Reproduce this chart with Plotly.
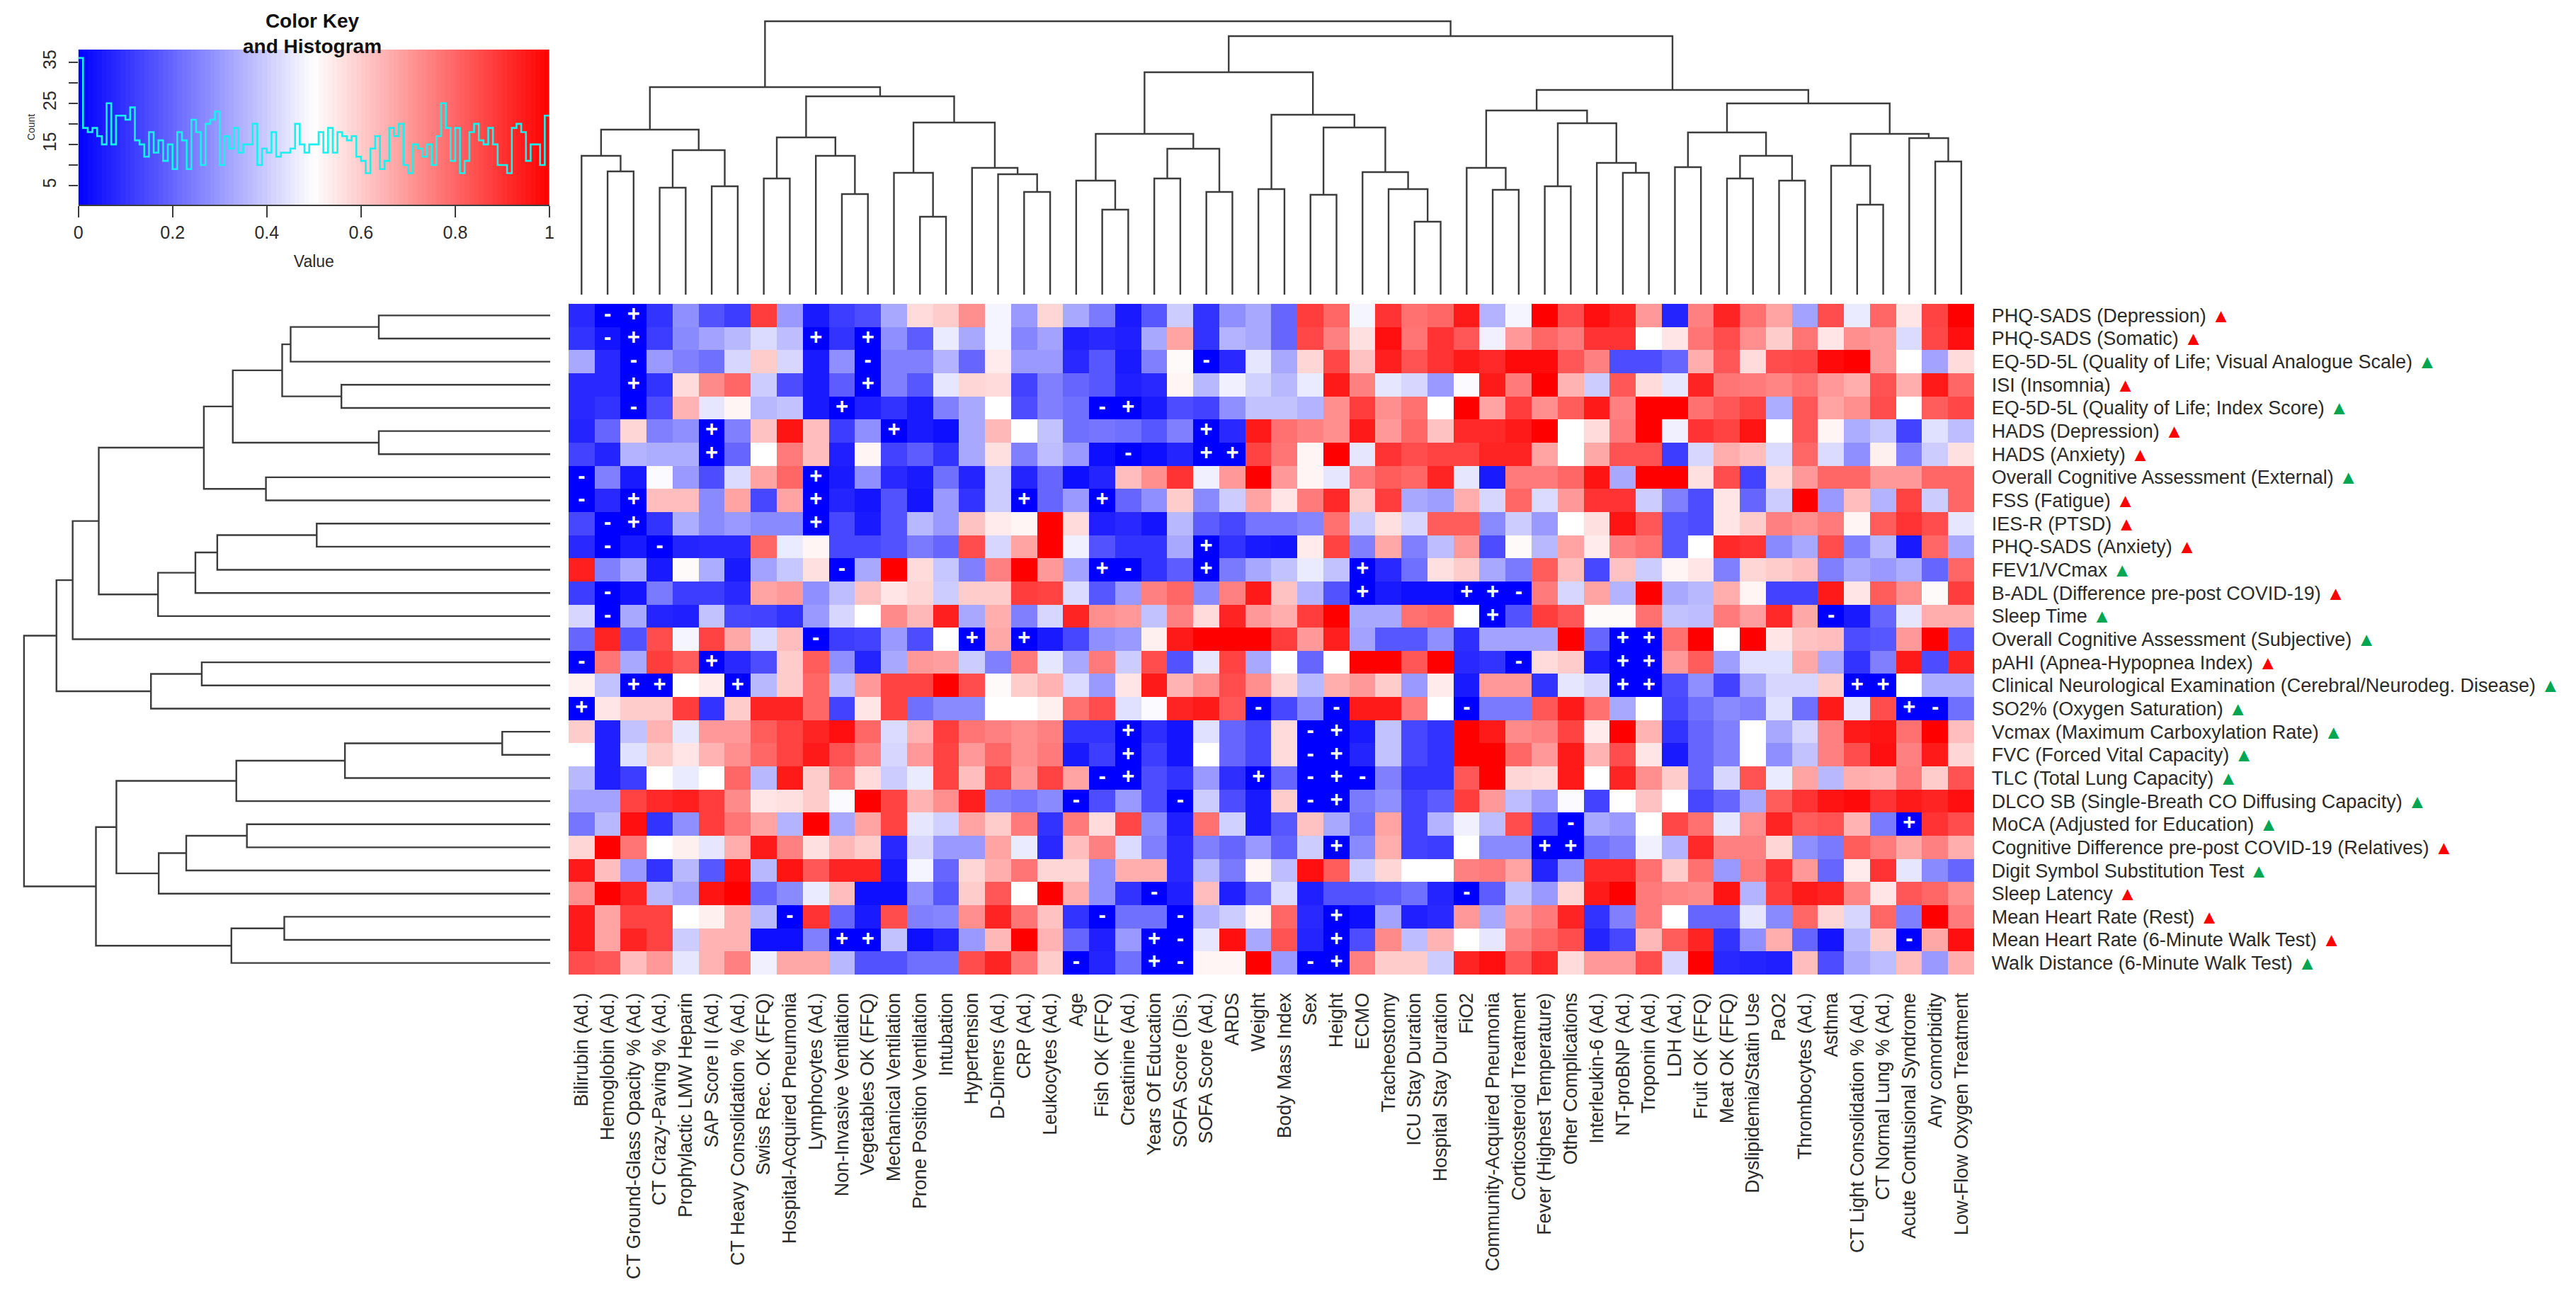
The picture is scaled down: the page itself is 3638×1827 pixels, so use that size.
import plotly.graph_objects as go

W, H = 3638, 1827

row_labels = [
    "PHQ-SADS (Depression)", "PHQ-SADS (Somatic)", "EQ-5D-5L (Quality of Life; Visual Analogue Scale)",
    "ISI (Insomnia)", "EQ-5D-5L (Quality of Life; Index Score)", "HADS (Depression)", "HADS (Anxiety)",
    "Overall Cognitive Assessment (External)", "FSS (Fatigue)", "IES-R (PTSD)", "PHQ-SADS (Anxiety)",
    "FEV1/VCmax", "B-ADL (Difference pre-post COVID-19)", "Sleep Time",
    "Overall Cognitive Assessment (Subjective)", "pAHI (Apnea-Hypopnea Index)",
    "Clinical Neurological Examination (Cerebral/Neurodeg. Disease)", "SO2% (Oxygen Saturation)",
    "Vcmax (Maximum Carboxylation Rate)", "FVC (Forced Vital Capacity)", "TLC (Total Lung Capacity)",
    "DLCO SB (Single-Breath CO Diffusing Capacity)", "MoCA (Adjusted for Education)",
    "Cognitive Difference pre-post COVID-19 (Relatives)", "Digit Symbol Substitution Test", "Sleep Latency",
    "Mean Heart Rate (Rest)", "Mean Heart Rate (6-Minute Walk Test)", "Walk Distance (6-Minute Walk Test)",
]
row_flag = ["r", "r", "g", "r", "g", "r", "r", "g", "r", "r", "r", "g", "r", "g", "g", "r", "g", "g",
            "g", "g", "g", "g", "g", "r", "g", "r", "r", "r", "g"]
col_labels = [
    "Bilirubin (Ad.)", "Hemoglobin (Ad.)", "CT Ground-Glass Opacity % (Ad.)", "CT Crazy-Paving % (Ad.)",
    "Prophylactic LMW Heparin", "SAP Score II (Ad.)", "CT Heavy Consolidation % (Ad.)", "Swiss Rec. OK (FFQ)",
    "Hospital-Acquired Pneumonia", "Lymphocytes (Ad.)", "Non-Invasive Ventilation", "Vegetables OK (FFQ)",
    "Mechanical Ventilation", "Prone Position Ventilation", "Intubation", "Hypertension", "D-Dimers (Ad.)",
    "CRP (Ad.)", "Leukocytes (Ad.)", "Age", "Fish OK (FFQ)", "Creatinine (Ad.)", "Years Of Education",
    "SOFA Score (Dis.)", "SOFA Score (Ad.)", "ARDS", "Weight", "Body Mass Index", "Sex", "Height", "ECMO",
    "Tracheostomy", "ICU Stay Duration", "Hospital Stay Duration", "FiO2", "Community-Acquired Pneumonia",
    "Corticosteroid Treatment", "Fever (Highest Temperature)", "Other Complications", "Interleukin-6 (Ad.)",
    "NT-proBNP (Ad.)", "Troponin (Ad.)", "LDH (Ad.)", "Fruit OK (FFQ)", "Meat OK (FFQ)",
    "Dyslipidemia/Statin Use", "PaO2", "Thrombocytes (Ad.)", "Asthma", "CT Light Consolidation % (Ad.)",
    "CT Normal Lung % (Ad.)", "Acute Contusional Syndrome", "Any comorbidity", "Low-Flow Oxygen Treatment",
]

# Heatmap values in percent of the 0-1 colour key, one list per row
values_pct = [
    [8,0,0,10,28,16,12,88,30,5,12,15,33,57,60,72,48,30,58,33,24,5,17,40,10,28,33,20,88,80,48,90,78,80,95,35,48,100,85,97,93,70,7,75,93,78,68,32,85,46,80,55,87,100],
    [10,4,0,12,27,32,36,43,37,0,10,0,28,18,46,33,48,26,32,6,8,6,33,68,10,35,33,20,86,75,56,97,77,90,83,47,70,80,76,90,90,50,55,77,85,72,60,77,55,72,70,43,86,97],
    [33,8,0,30,25,22,42,60,42,5,28,0,25,25,35,20,54,30,30,8,17,5,25,51,0,8,45,33,58,86,62,94,84,90,95,92,98,98,83,75,15,15,20,66,83,57,85,86,98,100,70,50,32,57],
    [8,8,0,10,57,73,80,40,15,5,18,0,25,17,45,58,57,13,25,20,17,6,8,52,36,47,41,36,46,95,75,45,42,30,49,95,76,100,65,40,83,57,45,93,77,76,74,78,70,66,84,66,95,80],
    [8,10,0,15,65,45,52,36,38,5,0,6,10,5,25,33,50,15,25,22,0,0,5,15,13,28,38,38,35,72,88,72,78,50,100,68,88,72,82,95,75,100,100,78,83,87,34,83,68,72,85,50,82,86],
    [7,20,58,25,28,0,25,62,96,63,12,28,0,5,3,33,64,50,38,22,23,22,17,25,0,8,95,78,75,72,95,70,80,62,92,92,95,100,50,57,76,100,47,90,87,96,50,83,52,34,39,13,44,37],
    [13,7,35,34,34,0,20,50,76,63,6,52,13,18,10,33,56,25,37,30,3,0,3,7,0,0,87,77,52,100,45,90,85,87,87,93,93,68,50,67,84,84,12,42,66,63,43,80,43,28,53,25,40,56],
    [0,25,5,49,30,15,43,68,80,0,5,28,8,5,22,7,40,7,20,3,7,63,72,90,47,70,100,70,52,45,76,82,80,93,45,5,76,76,80,96,33,100,100,56,85,13,57,70,80,80,70,70,80,80],
    [0,8,0,63,63,27,68,14,68,0,7,4,16,4,30,10,40,0,20,30,0,20,28,60,27,40,68,55,76,92,60,88,33,31,66,42,80,43,70,90,90,40,25,15,55,20,40,100,30,63,35,87,40,80],
    [14,0,0,10,34,27,30,27,27,0,14,5,16,36,30,62,54,52,100,57,6,8,4,36,18,14,23,23,26,78,40,56,42,82,82,27,40,30,50,56,96,83,17,15,55,60,75,72,76,52,82,90,85,45],
    [8,0,5,0,7,8,8,80,46,52,14,14,16,24,20,85,42,68,100,47,16,10,10,33,0,10,5,4,54,87,25,67,25,37,70,15,51,36,68,54,75,78,17,50,92,90,27,33,85,25,36,5,80,33],
    [94,25,33,5,51,34,5,32,39,56,0,33,100,57,39,25,75,100,70,32,0,0,10,18,0,24,33,38,46,38,0,8,22,56,60,33,24,82,63,14,62,40,52,55,25,58,60,63,25,33,30,34,20,80],
    [12,0,4,24,12,12,8,68,70,28,37,62,55,58,40,60,60,88,87,43,17,30,75,80,27,75,95,62,35,16,0,5,3,3,0,0,0,76,42,68,35,100,33,36,66,52,13,13,95,55,82,72,51,88],
    [42,0,33,7,6,38,14,13,10,30,42,50,73,64,94,33,66,25,42,93,72,70,38,75,57,93,70,66,88,100,33,33,78,80,50,0,16,88,83,51,51,78,38,37,76,69,92,67,0,5,20,45,66,66],
    [20,93,16,85,48,87,67,43,63,0,12,13,30,15,50,0,67,0,5,14,28,30,53,95,100,100,100,88,70,94,32,17,17,28,9,32,32,32,100,20,0,0,78,100,50,100,55,62,63,15,17,70,100,18],
    [0,77,33,88,82,0,8,15,60,82,28,7,33,70,69,40,25,76,45,33,76,40,85,16,45,87,33,50,20,50,100,100,83,100,8,10,0,57,60,6,0,0,70,82,31,44,44,67,33,10,25,95,15,93],
    [53,38,0,0,50,54,0,36,60,80,37,70,87,87,100,85,51,60,65,43,30,55,95,65,72,85,72,58,36,66,70,60,30,54,5,70,70,10,45,42,0,0,15,28,13,33,42,42,60,0,0,50,34,34],
    [0,55,60,60,88,10,60,93,93,80,13,55,87,22,27,27,50,50,53,78,85,44,49,93,95,83,0,14,26,0,95,95,76,50,0,24,24,83,95,78,33,50,14,22,27,25,44,22,95,45,85,0,0,22],
    [60,6,38,65,45,70,70,82,87,93,97,80,43,65,88,77,75,72,75,10,10,0,9,4,44,20,14,57,0,0,5,38,14,10,100,95,73,75,87,54,100,65,10,20,25,50,33,42,75,95,96,78,100,63],
    [50,6,44,60,55,65,72,80,87,95,84,75,42,70,87,70,80,72,76,5,12,0,12,4,50,20,14,57,0,0,7,38,14,10,100,100,80,70,95,65,85,55,5,20,25,50,28,38,75,85,97,75,95,58],
    [36,6,12,50,46,50,80,36,95,60,76,57,40,46,87,63,87,70,87,68,0,0,15,10,30,9,0,20,0,0,0,25,10,10,83,100,58,57,95,50,93,72,60,20,42,84,46,68,36,66,65,76,60,84],
    [32,32,87,92,94,88,73,55,56,60,49,100,87,65,72,94,25,23,27,0,15,30,15,0,40,15,5,60,0,0,24,28,13,18,88,70,37,30,49,13,50,62,50,14,20,33,82,90,96,98,90,95,93,97],
    [23,36,97,10,28,88,77,68,35,100,33,68,87,45,41,68,60,76,10,76,57,86,27,6,78,41,5,17,62,33,22,68,13,35,47,37,85,15,0,33,30,50,86,78,45,72,93,82,84,65,24,0,90,85],
    [58,100,77,50,53,45,66,95,75,56,64,60,8,42,30,30,68,46,8,63,75,43,25,8,25,20,30,19,40,0,27,66,13,12,50,27,27,0,0,22,25,47,35,92,75,75,58,28,24,82,76,67,75,66],
    [95,63,30,10,36,17,97,36,96,83,93,93,5,48,20,58,66,77,58,58,28,66,66,8,36,24,52,37,97,82,40,58,50,50,75,76,68,7,28,92,92,78,60,78,30,76,90,70,20,54,90,45,27,20],
    [72,100,93,36,32,96,100,20,27,46,63,3,3,28,17,60,83,50,100,66,28,10,0,6,63,6,20,43,6,16,16,18,22,7,0,18,38,30,58,95,100,76,74,73,96,35,88,95,93,74,55,83,80,72],
    [95,68,87,87,50,53,65,36,0,90,20,5,85,25,26,72,93,77,62,10,0,22,22,0,35,40,52,80,8,0,3,32,6,8,70,33,70,76,93,10,25,76,50,20,20,45,27,80,58,42,80,25,100,76],
    [95,68,93,87,40,65,65,3,3,25,0,0,38,3,7,30,64,100,65,20,6,30,0,0,45,97,33,84,7,0,15,73,37,65,50,45,75,80,85,7,14,64,82,93,10,28,66,20,4,36,60,0,67,97],
    [85,83,63,70,45,65,75,47,67,67,36,16,16,22,22,85,93,77,60,0,7,22,0,0,52,52,100,30,0,0,75,60,60,40,93,97,83,92,57,70,70,85,42,100,8,7,6,63,15,33,37,63,30,66],
]

# Significance marks drawn on the heatmap: (row, column)
plus_cells = [(0,2),(1,2),(1,9),(1,11),(3,2),(3,11),(4,10),(4,21),(5,5),(5,12),(5,24),(6,5),(6,24),(6,25),
              (7,9),(8,2),(8,9),(8,17),(8,20),(9,2),(9,9),(10,24),(11,20),(11,24),(11,30),(12,30),(12,34),(12,35),
              (13,35),(14,15),(14,17),(14,40),(14,41),(15,5),(15,40),(15,41),(16,2),(16,3),(16,6),(16,40),(16,41),
              (16,49),(16,50),(17,0),(17,51),(18,21),(18,29),(19,21),(19,29),(20,21),(20,26),(20,29),(21,29),(22,51),
              (23,29),(23,37),(23,38),(26,29),(27,10),(27,11),(27,22),(27,29),(28,22),(28,29)]
minus_cells = [(0,1),(1,1),(2,2),(2,11),(2,24),(4,2),(4,20),(6,21),(7,0),(8,0),(9,1),(10,1),(10,3),(11,10),(11,21),
               (12,1),(12,36),(13,1),(13,48),(14,9),(15,0),(15,36),(17,26),(17,29),(17,34),(17,52),(18,28),(19,28),
               (20,20),(20,28),(20,30),(21,19),(21,23),(21,28),(22,38),(25,22),(25,34),(26,8),(26,20),(26,23),
               (27,23),(27,51),(28,19),(28,23),(28,28)]

# Dendrograms: each merge joins leaves lo..mid with mid+1..hi at a height
col_merges = [
    (1,1,2,174),(0,0,2,196),(3,3,4,151),(5,5,6,153),(3,4,6,204),(0,2,6,233),(7,7,8,164),(10,10,11,142),(9,9,11,196),
    (7,8,11,222),(13,13,14,110),(12,12,14,172),(17,17,18,145),(16,16,18,170),(15,15,18,179),(12,14,18,243),
    (7,11,18,280),(0,6,18,293),(20,20,21,120),(19,19,21,161),(22,22,23,164),(24,24,25,145),(22,23,25,206),
    (19,21,25,227),(26,26,27,149),(28,28,29,141),(32,32,33,103),(31,31,33,149),(30,30,33,173),(28,29,33,236),
    (26,27,33,254),(19,25,33,314),(35,35,36,148),(34,34,36,179),(37,37,38,153),(40,40,41,172),(39,39,41,186),
    (37,38,41,242),(34,36,41,260),(42,42,43,180),(44,44,45,164),(46,46,47,161),(44,45,47,196),(42,43,47,229),
    (49,49,50,127),(48,48,50,182),(52,52,53,188),(51,51,53,221),(48,50,53,227),(42,47,53,270),(34,41,53,289),
    (19,33,53,365),(0,18,53,386),
]
row_merges = [
    (0,0,1,243),(0,1,2,368),(3,3,4,296),(0,2,4,380),(5,5,6,243),(0,4,6,450),(7,7,8,403),(0,6,8,491),
    (9,9,10,331),(9,10,11,472),(9,11,12,503),(9,12,13,556),(0,8,13,640),(0,13,14,677),(15,15,16,494),
    (15,16,17,566),(0,14,17,700),(18,18,19,68),(18,19,20,291),(18,20,21,445),(22,22,23,430),(22,23,24,516),
    (22,24,25,555),(18,21,25,615),(26,26,27,377),(26,27,28,452),(18,25,28,644),(0,17,28,746),
]

# Colour-key histogram: count in each of the 100 equal bins on 0-1
hist_counts = [36,19,18,19,17,15,25,15,22,22,21,24,16,15,12,18,13,16,11,15,9,18,16,9,21,18,10,20,21,23,
               10,17,14,19,13,15,15,20,10,14,13,18,12,13,13,14,20,15,13,15,15,18,13,19,13,18,17,16,17,12,
               11,8,14,17,9,11,19,17,20,10,8,15,14,12,15,10,17,25,19,11,19,8,11,18,20,16,15,19,15,10,
               10,8,19,20,18,11,15,15,10,22]
key_ticks = [0, 0.2, 0.4, 0.6, 0.8, 1]
key_tick_text = ["0", "0.2", "0.4", "0.6", "0.8", "1"]
count_ticks = [5, 10, 15, 20, 25, 30, 35]
count_tick_text = ["5", "", "15", "", "25", "", "35"]

FONT = "Liberation Sans"
TEXT = "#2b2b2b"
LINE = "#3c3c3c"
BWR = [[0, "#0000ff"], [0.5, "#ffffff"], [1, "#ff0000"]]


def dx(x0, x1):
    return [x0 / W, x1 / W]


def dy(y_top, y_bottom):
    return [1 - y_bottom / H, 1 - y_top / H]


def dendro_segments(merges, n):
    pos = {(i, i): (float(i), 0.0) for i in range(n)}
    a, b = [], []
    for lo, mid, hi, h in merges:
        p1, h1 = pos[(lo, mid)]
        p2, h2 = pos[(mid + 1, hi)]
        a += [p1, p1, p2, p2, None]
        b += [h1, h, h, h2, None]
        pos[(lo, hi)] = ((p1 + p2) / 2, float(h))
    return a, b


flag_colour = {"r": "#ff0000", "g": "#00a651"}
row_text = [f'{t} <span style="color:{flag_colour[f]}">▲</span>' for t, f in zip(row_labels, row_flag)]
n_rows, n_cols = len(row_labels), len(col_labels)
for r in values_pct:
    assert len(r) == n_cols, (len(r), r[:4])
assert len(values_pct) == n_rows

fig = go.Figure()
fig.add_trace(go.Heatmap(z=[[v / 100 for v in r] for r in values_pct], x=list(range(n_cols)), y=list(range(n_rows)),
                         colorscale=BWR, zmin=0, zmax=1, showscale=False, hoverinfo="skip"))
for cells, sign in ((plus_cells, "+"), (minus_cells, "-")):
    fig.add_trace(go.Scatter(x=[c for _, c in cells], y=[r for r, _ in cells], mode="text", text=[sign] * len(cells),
                             textposition="middle center", showlegend=False, hoverinfo="skip",
                             textfont=dict(family=FONT, size=31, color="white", weight="bold")))

cx, cy = dendro_segments(col_merges, n_cols)
fig.add_trace(go.Scatter(x=cx, y=cy, mode="lines", xaxis="x2", yaxis="y2", showlegend=False, hoverinfo="skip",
                         line=dict(color=LINE, width=2.4)))
ry, rx = dendro_segments(row_merges, n_rows)
fig.add_trace(go.Scatter(x=rx, y=ry, mode="lines", xaxis="x3", yaxis="y3", showlegend=False, hoverinfo="skip",
                         line=dict(color=LINE, width=2.4)))

bin_lefts = [i / len(hist_counts) for i in range(len(hist_counts))]
bin_mid = [b + 0.5 / len(hist_counts) for b in bin_lefts]
fig.add_trace(go.Heatmap(z=[bin_mid, bin_mid], x=bin_mid, y=[0, 40], colorscale=BWR, zmin=0, zmax=1,
                         showscale=False, xaxis="x4", yaxis="y4", hoverinfo="skip"))
fig.add_trace(go.Scatter(x=bin_lefts + [1], y=hist_counts + [hist_counts[-1]], mode="lines", xaxis="x4", yaxis="y4",
                         showlegend=False, hoverinfo="skip", line=dict(color="#19f0f0", width=2.6, shape="hv")))

hidden = dict(showgrid=False, zeroline=False, showticklabels=False, ticks="", showline=False)
fig.update_layout(
    width=W, height=H, margin=dict(l=0, r=0, t=0, b=0), paper_bgcolor="white", plot_bgcolor="white", showlegend=False,
    font=dict(family=FONT, color=TEXT),
    xaxis=dict(domain=dx(799, 2792), range=[-0.5, n_cols - 0.5], anchor="y", tickmode="array",
               tickvals=list(range(n_cols)), ticktext=col_labels, tickangle=-90, ticks="outside", ticklen=14,
               tickcolor="rgba(0,0,0,0)", tickfont=dict(family=FONT, size=26.8, color=TEXT), showgrid=False, zeroline=False),
    yaxis=dict(domain=dy(429, 1376), range=[n_rows - 0.5, -0.5], anchor="x", side="right", tickmode="array",
               tickvals=list(range(n_rows)), ticktext=row_text, ticks="outside", ticklen=18,
               tickcolor="rgba(0,0,0,0)", tickfont=dict(family=FONT, size=27, color=TEXT), showgrid=False, zeroline=False),
    xaxis2=dict(domain=dx(799, 2792), range=[-0.5, n_cols - 0.5], anchor="y2", **hidden),
    yaxis2=dict(domain=dy(10, 416), range=[0, 406], anchor="x2", **hidden),
    xaxis3=dict(domain=dx(0, 773), range=[773, 0], anchor="y3", **hidden),
    yaxis3=dict(domain=dy(429, 1376), range=[n_rows - 0.5, -0.5], anchor="x3", **hidden),
    xaxis4=dict(domain=dx(104, 772), range=[0, 1], anchor="y4", tickmode="array", tickvals=key_ticks,
                ticktext=key_tick_text, ticks="outside", ticklen=16, tickwidth=2.4, tickcolor=LINE, showline=True,
                linecolor=LINE, linewidth=2.4, showgrid=False, zeroline=False,
                tickfont=dict(family=FONT, size=25, color=TEXT),
                title=dict(text="Value", font=dict(family=FONT, size=23, color=TEXT), standoff=20)),
    yaxis4=dict(domain=dy(70, 289), range=[0.35, 38.05], anchor="x4", tickmode="array", tickvals=count_ticks,
                ticktext=count_tick_text, ticks="outside", ticklen=13, tickwidth=2.4, tickcolor=LINE, showgrid=False,
                zeroline=False, tickangle=-90, ticklabelstandoff=8, tickfont=dict(family=FONT, size=25, color=TEXT),
                title=dict(text="Count", font=dict(family=FONT, size=14, color=TEXT), standoff=2)),
    annotations=[dict(text="<b>Color Key<br>and Histogram</b>", x=436 / W, y=1 - 47 / H, xref="paper", yref="paper",
                      xanchor="center", yanchor="middle", showarrow=False,
                      font=dict(family=FONT, size=28, color="#111111"))],
)
fig.write_html("out.html", config={"displayModeBar": False}, post_script="document.body.style.margin='0';")
